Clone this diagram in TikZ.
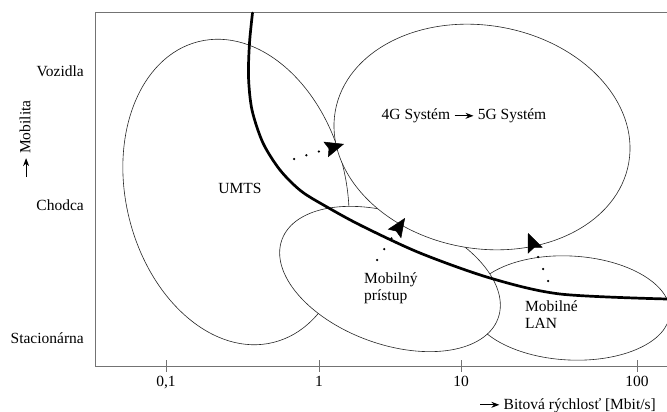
\documentclass[tikz,border=0pt]{standalone}
\usepackage{fontspec}
\setmainfont{Liberation Serif}
\usetikzlibrary{arrows.meta,shapes.geometric}
\newcommand{\txtarrow}{\tikz[baseline=-4.2pt]\draw[line width=.9pt,
  -{Stealth[length=8pt,width=6pt]}] (0pt,0pt) -- (19pt,0pt);}

\begin{document}
\begin{tikzpicture}[x=1pt,y=-1pt,
    font=\fontsize{15.5}{17}\selectfont,
    zone/.style={ellipse,draw=black!85,line width=.6pt,fill=white,
      inner sep=0pt,outer sep=0pt},
    frame/.style={draw=black!55,line width=1pt},
    boundary/.style={line width=2.7pt,line cap=round},
    hop/.style={line width=2.5pt,line cap=round,dash pattern=on 0pt off 13pt,
      -{Stealth[length=19pt,width=16pt,inset=3pt,line width=.5pt]}},
    lbl/.style={inner sep=0pt}]
  \useasboundingbox (0,0) rectangle (667,412);

  % Frame and rate axis.
  \draw[frame] (667,13) -- (95,13) -- (95,366) -- (667,366);
  \foreach \x/\t in {166/{0,1},319/1,461/10,637/100}{
    \draw[frame] (\x,360) -- (\x,372);
    \node[lbl,anchor=base] (tick\x) at (\x,386) {\t};
  }
  \node[lbl,anchor=base east] (rate) at (656,409)
    {\txtarrow\ Bitová rýchlosť [Mbit/s]};

  % Mobility levels.
  \node[lbl,anchor=base east] (vozidla) at (84,77) {Vozidla};
  \node[lbl,anchor=base east] (chodca) at (84,210) {Chodca};
  \node[lbl,anchor=base east] (stac) at (84,343) {Stacionárna};
  \node[lbl,rotate=90] (mobilita) at (25,139) {\txtarrow\ Mobilita};

  % Systems, back to front.
  \node[zone,minimum width=220pt,minimum height=310pt,rotate=14]
    (umts) at (236,192) {};
  \node[zone,minimum width=200pt,minimum height=104pt,rotate=-3]
    (lan) at (570,308) {};
  \node[zone,minimum width=230pt,minimum height=130pt,rotate=-20]
    (mobil) at (390,279) {};
  \node[zone,minimum width=298pt,minimum height=223pt,rotate=-10]
    (sys) at (482,137) {};

  % Thick boundary curve.
  \draw[boundary] plot[smooth] coordinates {(252.5,13) (249.5,43)
    (248.5,77) (252,110) (263,143) (280,170) (301,191) (327,207)
    (362,226) (420,253) (490,278) (560,294) (667,299)};

  % Migration towards 4G/5G.
  \coordinate (umtsfrom) at (294,159);
  \coordinate (umtsto) at (344,144);
  \coordinate (mobilfrom) at (377,260);
  \coordinate (mobilto) at (405,218);
  \coordinate (lanfrom) at (548,281);
  \coordinate (lanto) at (528,233);
  \draw[hop] (umtsfrom) -- (umtsto);
  \draw[hop] (mobilfrom) -- (mobilto);
  \draw[hop] (lanfrom) -- (lanto);

  % Labels.
  \node[lbl] (umtslbl) at (240,188.5) {UMTS};
  \node[lbl,anchor=base] (syslbl) at (464,120)
    {4G Systém \txtarrow{} 5G Systém};
  \node[lbl,align=left,anchor=west] (mobillbl) at (364,288)
    {Mobilný\\prístup};
  \node[lbl,align=left,anchor=west] (lanlbl) at (525,315)
    {Mobilné\\LAN};
\end{tikzpicture}
\end{document}
